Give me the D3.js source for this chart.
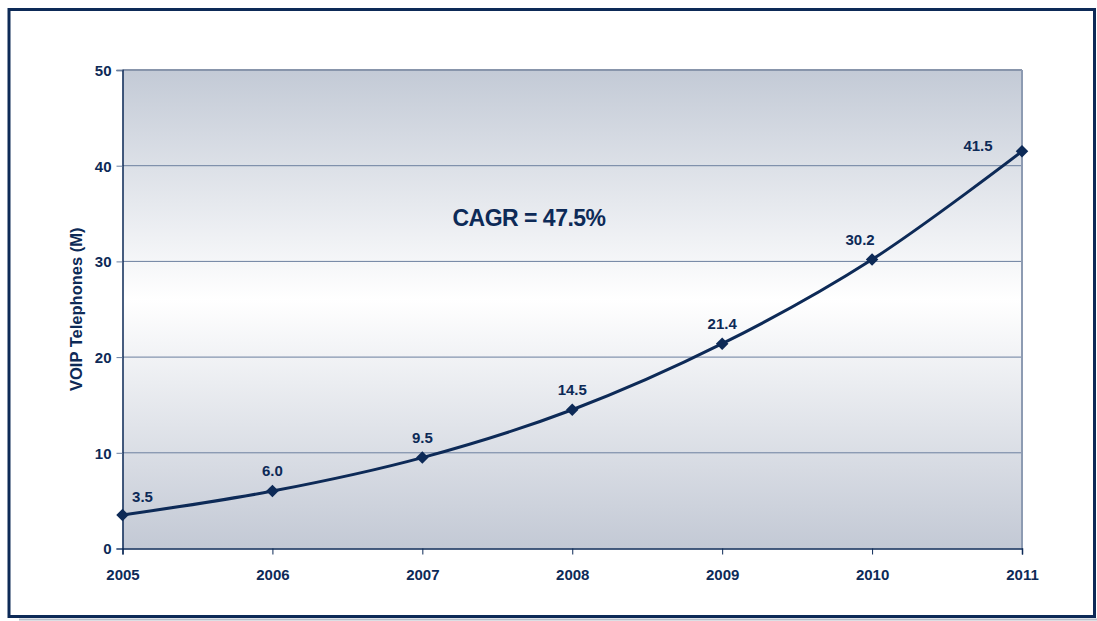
<!DOCTYPE html>
<html>
<head>
<meta charset="UTF-8">
<script src="https://d3js.org/d3.v7.min.js"></script>
<style>
  body { margin: 0; background: #fff; }
  svg text { font-family: Arial, "Liberation Sans", sans-serif; font-weight: bold; fill: #0d2a57; }
</style>
</head>
<body>
<svg id="chart" width="1097" height="621"></svg>
<script>
// data
const years = ["2005", "2006", "2007", "2008", "2009", "2010", "2011"];
const phones = [3.5, 6.0, 9.5, 14.5, 21.4, 30.2, 41.5];
const yTicks = [0, 10, 20, 30, 40, 50];

const navy = "#0d2a57";
const svg = d3.select("#chart");
const margin = { left: 122.5, right: 75, top: 70, bottom: 72 };
const W = 1097, H = 621;

// outer frame
svg.append("rect").attr("x", 9).attr("y", 9.5).attr("width", 1085.5).attr("height", 607)
  .attr("fill", "none").attr("stroke", navy).attr("stroke-width", 3);
svg.append("line").attr("x1", 19).attr("x2", 1097).attr("y1", 619.5).attr("y2", 619.5)
  .attr("stroke", "#b8bfca").attr("stroke-width", 2);

const x = d3.scalePoint().domain(years).range([margin.left, W - margin.right]);
const y = d3.scaleLinear().domain([0, 50]).range([H - margin.bottom - 0.5, margin.top]);

// background gradient
const grad = svg.append("defs").append("linearGradient").attr("id", "bg")
  .attr("x1", 0).attr("x2", 0).attr("y1", 0).attr("y2", 1);
grad.append("stop").attr("offset", "0%").attr("stop-color", "#c3cad6");
grad.append("stop").attr("offset", "48%").attr("stop-color", "#ffffff");
grad.append("stop").attr("offset", "100%").attr("stop-color", "#c3c9d5");

const x0 = x(years[0]), x1 = x(years[years.length - 1]);
svg.append("rect").attr("x", x0).attr("y", y(50)).attr("width", x1 - x0).attr("height", y(0) - y(50))
  .attr("fill", "url(#bg)");

// gridlines
svg.append("g").selectAll("line").data(yTicks.slice(1)).join("line")
  .attr("x1", x0).attr("x2", x1).attr("y1", d => y(d)).attr("y2", d => y(d))
  .attr("stroke", d => d === 50 ? "#8895ab" : "#6b7f9e").attr("stroke-width", d => d === 50 ? 2 : 1);
svg.append("line").attr("x1", x1).attr("x2", x1).attr("y1", y(50)).attr("y2", y(0))
  .attr("stroke", "#8d9bb2").attr("stroke-width", 2);

// y axis
const yAxis = svg.append("g").attr("transform", `translate(${x0},0)`)
  .call(d3.axisLeft(y).tickValues(yTicks).tickSize(6).tickPadding(5));
yAxis.select(".domain").attr("stroke", navy).attr("stroke-width", 1.5);
yAxis.selectAll(".tick line").attr("stroke", "#6b7f9e");
yAxis.selectAll("text").attr("font-size", 15).attr("fill", navy).attr("dy", "0.36em");

// x axis
const xAxis = svg.append("g").attr("transform", `translate(0,${y(0)})`)
  .call(d3.axisBottom(x).tickSize(6).tickPadding(15));
xAxis.select(".domain").attr("stroke", navy).attr("stroke-width", 1.5);
xAxis.selectAll(".tick line").attr("stroke", navy);
xAxis.selectAll("text").attr("font-size", 15).attr("fill", navy);

// y label
svg.append("text").attr("transform", `translate(82,${y(25)}) rotate(-90)`)
  .attr("text-anchor", "middle").attr("font-size", 16.5).text("VOIP Telephones (M)");

// line
const pts = years.map((yr, i) => [x(yr), y(phones[i])]);
svg.append("path").attr("d", d3.line().curve(d3.curveCatmullRom.alpha(0.5))(pts))
  .attr("fill", "none").attr("stroke", navy).attr("stroke-width", 3);

// markers
svg.append("g").selectAll("path").data(pts).join("path")
  .attr("transform", d => `translate(${d[0]},${d[1]})`)
  .attr("d", d3.symbol().type(d3.symbolDiamond2).size(100))
  .attr("fill", navy);

// value labels
const labelDx = [20, 0, 0, 0, 0, -12, -44];
const labelDy = [-13, -15, -15, -15, -15, -14, 0];
svg.append("g").selectAll("text").data(phones).join("text")
  .attr("x", (d, i) => pts[i][0] + labelDx[i])
  .attr("y", (d, i) => pts[i][1] + labelDy[i])
  .attr("text-anchor", "middle").attr("font-size", 15)
  .text(d => d.toFixed(1));

// CAGR annotation
svg.append("text").attr("x", 529).attr("y", 226).attr("text-anchor", "middle")
  .attr("font-size", 23).attr("letter-spacing", -0.5).text("CAGR = 47.5%");
</script>
</body>
</html>
